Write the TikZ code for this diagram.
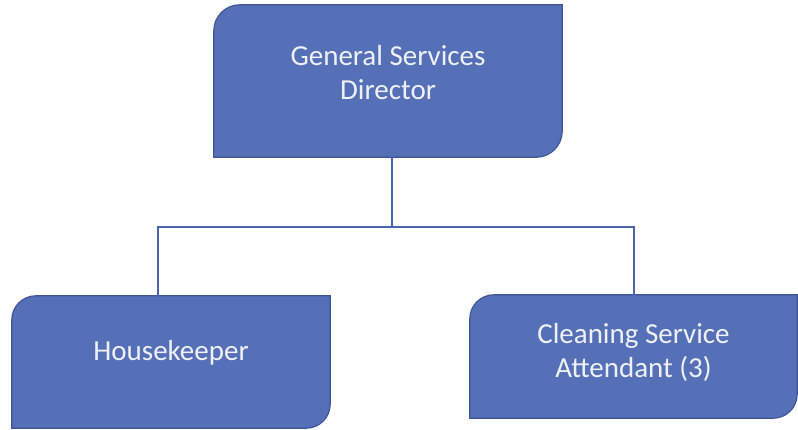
\documentclass[tikz,border=0pt]{standalone}
\usepackage{fontspec}
\setmainfont{Carlito}
\usetikzlibrary{backgrounds}

\definecolor{boxfill}{HTML}{5570B6}
\definecolor{boxedge}{HTML}{3F5598}
\definecolor{linkblue}{HTML}{4A64AE}
\definecolor{labeltext}{HTML}{EEF1F8}

\tikzset{
  orgbox/.style={draw=none, fill=none, inner sep=0pt},
  boxtext/.style={text=labeltext, align=center, font=\fontsize{29}{34}\selectfont},
  boxpaint/.style={fill=boxfill, draw=boxedge, line width=1.2pt},
  conn/.style={draw=linkblue, line width=1.5pt},
}

% Rectangle with the top-left and bottom-right corners rounded
\newcommand\snipframe[2]{%
  \path[boxpaint] (#1.south west)
    -- ([yshift=-#2]#1.north west)
    .. controls ([yshift={-0.448*#2}]#1.north west) and ([xshift={0.448*#2}]#1.north west)
    .. ([xshift=#2]#1.north west)
    -- (#1.north east)
    -- ([yshift=#2]#1.south east)
    .. controls ([yshift={0.448*#2}]#1.south east) and ([xshift={-0.448*#2}]#1.south east)
    .. ([xshift=-#2]#1.south east)
    -- cycle;}

\begin{document}
\begin{tikzpicture}[x=1pt,y=-1pt]
\useasboundingbox (0,0) rectangle (798,429);

\node[orgbox, minimum width=348pt, minimum height=152pt,
  label={[boxtext, name=dirtext, yshift=8pt]center:General Services\\Director}]
  (dir) at (388,81) {};
\node[orgbox, minimum width=318pt, minimum height=132pt,
  label={[boxtext, name=hktext, yshift=9pt]center:Housekeeper}]
  (hk) at (171,362) {};
\node[orgbox, minimum width=327pt, minimum height=123pt,
  label={[boxtext, name=csatext, yshift=4pt]center:Cleaning Service\\Attendant (3)}]
  (csa) at (633.5,356.5) {};

\begin{pgfonlayer}{background}
  \snipframe{dir}{26pt}
  \snipframe{hk}{24pt}
  \snipframe{csa}{24pt}
\end{pgfonlayer}

% reporting lines
\coordinate (trunk) at (392,227);
\coordinate (busL) at (158,227);
\coordinate (busR) at (634,227);
\draw[conn] (trunk |- dir.south) -- (trunk);
\draw[conn] (hk.north -| busL) -- (busL) -- (busR) -- (csa.north -| busR);
\end{tikzpicture}
\end{document}
